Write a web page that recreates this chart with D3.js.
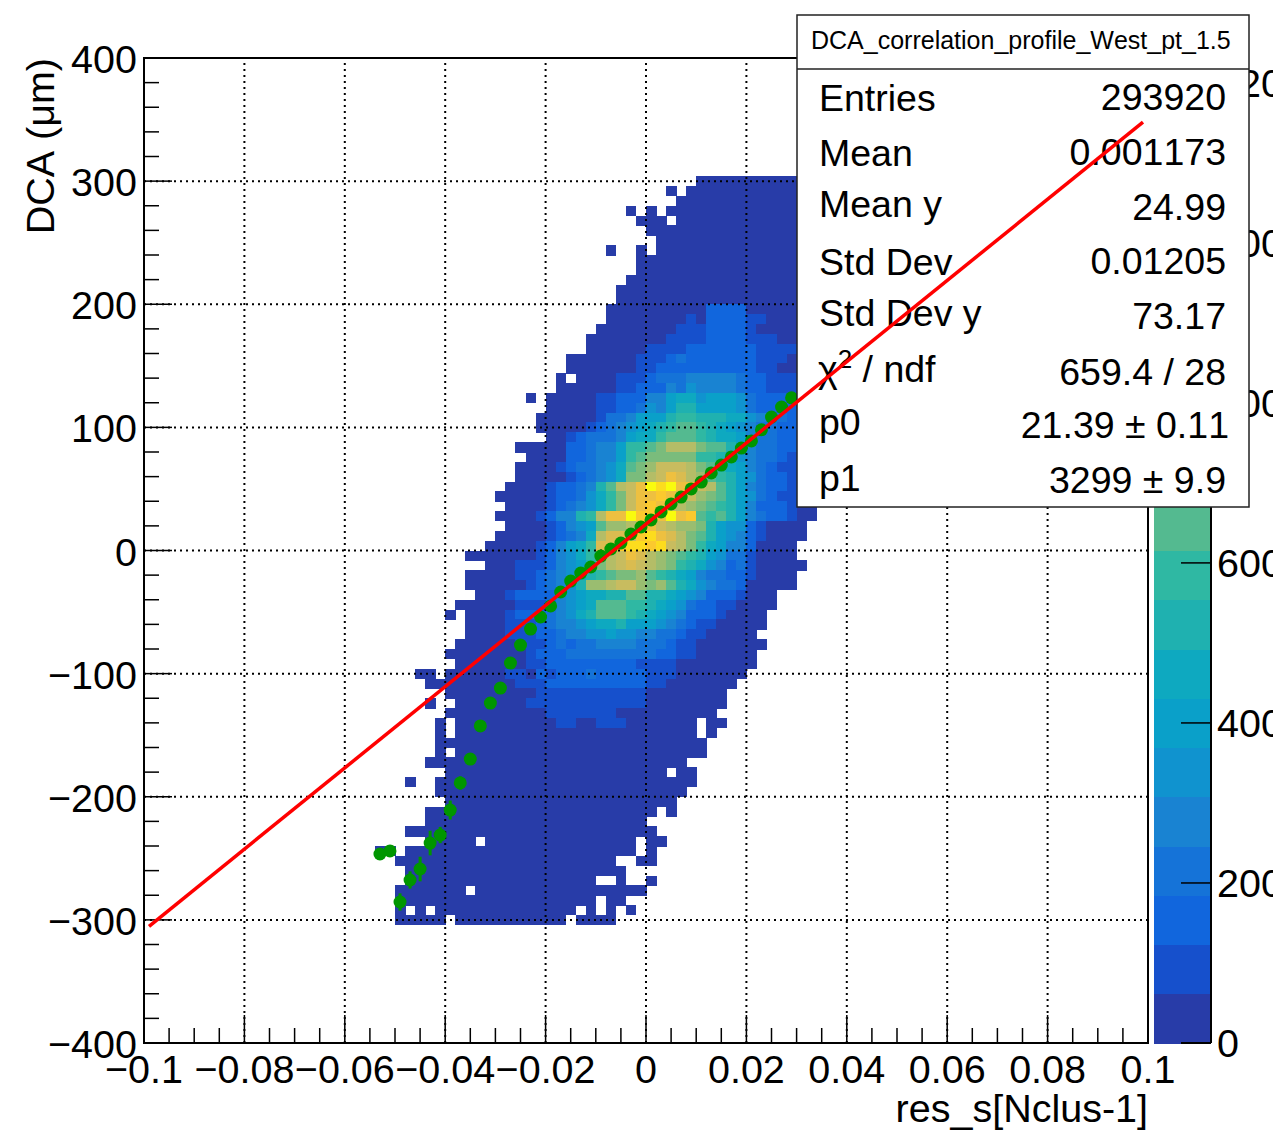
<!DOCTYPE html>
<html>
<head>
<meta charset="utf-8">
<script src="https://cdn.jsdelivr.net/npm/d3@7"></script>
<style>
html, body { margin: 0; padding: 0; background: #fff; }
svg { display: block; }
text { font-family: "Liberation Sans", Arial, sans-serif; fill: #000; font-kerning: none; }
</style>
</head>
<body>
<svg id="chart" width="1273" height="1130"></svg>
<script>
const xDomain = [-0.1, 0.1];
const yDomain = [-400, 400];
const zMax = 1231;
const xBinWidth = 0.002;
const yBinWidth = 8;
const yTopEdge = 304;

const xMajorTicks = [-0.1, -0.08, -0.06, -0.04, -0.02, 0, 0.02, 0.04, 0.06, 0.08, 0.1];
const xMinorTicks = d3.range(-20, 21).map(d => d * 0.005).filter(d => Math.abs(d * 50 - Math.round(d * 50)) > 1e-6);
const yMajorTicks = [-400, -300, -200, -100, 0, 100, 200, 300, 400];
const yMinorTicks = d3.range(-20, 21).map(d => d * 20).filter(d => d % 100 !== 0);
const zTicks = [0, 200, 400, 600, 800, 1000, 1200];

// 20 colour bands of the palette, lowest first.
const palette = ['#283ca8', '#1650cc', '#1166dd', '#1573d8', '#1983d2', '#1093cf', '#0aa0c9', '#0ea9c0', '#1fb1b0', '#2fb8a3',
    '#54ba90', '#7abc7c', '#9abd70', '#b4bd67', '#c8bc5f', '#dabc50', '#eec040', '#fbc92e', '#fcdc1e', '#f9fb0e'];

// One row per y bin, from the top (304 um) down: first x bin, then the colour
// band of each x bin in base 36. A dot is an empty bin.
const heatRows = [
    [55, '0000000000'],
    [52, '0.00000000000'],
    [53, '000000000000'],
    [48, '0.0.0000000000000'],
    [49, '000.000000000000'],
    [50, '000000000000000'],
    [51, '00000000000000'],
    [46, '0..0.00000000000000'],
    [49, '0000000000000000'],
    [49, '0000000000000000'],
    [48, '00000000000000000'],
    [47, '000000000000000000'],
    [47, '000000000000000000'],
    [46, '0000000000222200000'],
    [46, '00000000102222' + '11000'],
    [45, '00000000111' + '2222' + '1' + '0000'],
    [44, '00000000' + '1111' + '2' + '222' + '111' + '00'],
    [44, '000000' + '1111' + '2222222' + '1111'],
    [42, '0000000' + '111' + '2' + '3' + '2222222' + '111' + '0'],
    [42, '0000000' + '112' + '222222222' + '11' + '00'],
    [41, '0.' + '0000' + '111' + '2' + '33' + '3' + '44444' + '3' + '22' + '111'],
    [41, '000000' + '11' + '222' + '4' + '3' + '5' + '4444' + '3' + '22' + '111'],
    [38, '0.' + '00000' + '11' + '22' + '2' + '44' + '6' + '77' + '5' + '666' + '5' + '3' + '22' + '22'],
    [40, '00000' + '11' + '22' + '3' + '54' + '6' + '88' + '6' + '666' + '5' + '3' + '2' + '21' + '2'],
    [39, '000000' + '1' + '33' + '4' + '6' + '66' + '8' + '99' + '8' + '88' + '77' + '5' + '4' + '33' + '2'],
    [39, '00000' + '123456789aa9876' + '54' + '3322'],
    [40, '00' + '1' + '233' + '3467' + '79aaa9' + '87' + '76433' + '22'],
    [37, '00000' + '2' + '23' + '44' + '6' + '99' + 'ab' + 'ddd' + 'baa' + '86' + '4' + '33' + '22'],
    [38, '0000' + '22' + '3' + '44' + '6' + '9' + 'abbbbb' + '99' + '865' + '4332' + '1'],
    [37, '0000' + '12' + '33' + '457' + 'abc' + 'eee' + 'dba' + '876' + '432' + '11'],
    [37, '00000' + '123' + '457' + 'bb' + 'degfdc' + 'a986' + '53' + '22' + '1'],
    [36, '0000' + '12' + '23' + '48ad' + 'egjijgg' + 'eda86' + '43' + '22' + '1'],
    [35, '00000' + '1' + '22' + '3579b' + 'eggh' + 'gfecba' + '8653' + '21' + '1'],
    [36, '0000' + '12345' + '79b' + 'eghgedcba98' + '642' + '221' + '00'],
    [35, '0000' + '12' + '44' + '89d' + 'ggjhh' + 'gjgha' + '9a86' + '4322' + '100'],
    [36, '0000' + '12456' + 'accd' + 'fgedccb' + '8655' + '21' + '0000'],
    [35, '00000' + '12347' + 'dffe' + 'higfdba' + '8654' + '21' + '0000'],
    [34, '00000' + '12467' + '9ffhiihi' + 'edb97' + '6442' + '0' + '000'],
    [32, '0000000' + '12457' + '9cdegfdcba9' + '8653' + '31' + '0' + '000'],
    [34, '000' + '111' + '24568' + 'bdefedcb' + '98754' + '23' + '1' + '00000'],
    [32, '00000' + '11' + '23457' + '89abbca' + '9876' + '4332' + '21' + '0000'],
    [32, '000000' + '12345' + '8ccdeecbca' + '87543' + '32' + '00000'],
    [33, '000' + '1' + '2222' + '45677' + '88aa88' + '7654' + '222' + '1' + '000'],
    [31, '000000' + '111' + '2456' + '7aaa99' + '8765' + '3' + '22' + '11' + '0000'],
    [30, '0.' + '0000' + '1' + '222' + '3457' + '8aaa98' + '7654' + '222' + '1' + '0000'],
    [32, '0000' + '111' + '23' + '4456' + '77866' + '6543' + '2' + '11' + '00000'],
    [32, '0000' + '111' + '223' + '4455' + '65544' + '33' + '2' + '11' + '00000'],
    [31, '000000' + '111' + '232' + '33' + '4444' + '333' + '2' + '11' + '0000000'],
    [30, '00000000' + '1' + '222' + '333333333' + '22' + '11' + '000000'],
    [31, '0000000' + '11' + '222222222' + '1111' + '00000000'],
    [27, '00.' + '000000' + '11' + '0' + '21' + '222' + '3' + '22222' + '111' + '0000000'],
    [28, '000000000' + '111' + '2222222222' + '11' + '0000000'],
    [30, '000000000' + '11111111111' + '00000000'],
    [28, '0..' + '0000000' + '111111111111' + '00000000'],
    [30, '0000000000' + '1111111' + '0000000000'],
    [29, '0.' + '0000000000' + '11' + '00' + '111' + '0000000' + '.' + '00'],
    [29, '0.' + '000000000000000000000000' + '.' + '0'],
    [29, '000000000000000000000000000'],
    [29, '0.' + '0000000000000000000000000'],
    [28, '00000000000000000000000000'],
    [30, '0000000000000000000000' + '.' + '00'],
    [26, '0..' + '00000000000000000000000000'],
    [29, '0000000000000000000000000'],
    [30, '00000000000000000000000'],
    [28, '00000000000000000000000' + '.' + '0'],
    [28, '0000000000000000000000'],
    [26, '0000000000000000000000000'],
    [28, '00000' + '.' + '000000000000000' + '.' + '00'],
    [23, '00.' + '00000000000000000000000' + '.' + '0'],
    [25, '0000000000000000000000' + '..' + '00'],
    [26, '0000000000000000000000'],
    [26, '0000000000000000000' + '..' + '0' + '..' + '0'],
    [25, '0000000' + '.' + '00000000000000000'],
    [25, '00000000000000000000' + '.' + '00'],
    [25, '0.0.' + '00000000000000' + '.0.0.0'],
    [25, '00000' + '.' + '00000000000' + '.' + '0000']
];

// Profile points: first x bin is 23, one point per bin, mean and error in um.
const profileFirstBin = 23;
const profileMeans = [-246.5, -244, -285.5, -267.6, -258.7, -237.6, -231.1, -210.8, -188.8, -169.4, -142.5, -123.9, -111.7, -91.4,
    -76.8, -63.8, -54, -45, -33.7, -24.8, -18.3, -13.4, -4.5, 1.2, 6.1, 13.4, 19.1, 24.8, 31.3, 37.8, 43.4, 50, 55.6, 63, 69.4,
    76, 83.2, 89, 98, 108.4, 116.5, 124];
const profileErrors = [1, 1, 7, 7, 10, 10, 6.6, 7.7, 5.4, 4, 3, 3, 2, 2, 2, 2, 1, 1, 1, 1, 1, 1, 1, 1, 1, 1, 1, 1, 1, 1, 1, 1, 1, 1, 1,
    1, 1, 1, 1, 1, 1, 1];

const fitP0 = 21.39;
const fitP1 = 3299;
const fitRange = [-0.099, 0.099];

const statsTitle = 'DCA_correlation_profile_West_pt_1.5';
const statsLabels = ['Entries', 'Mean', 'Mean y', 'Std Dev', 'Std Dev y', null, 'p0', 'p1'];
const statsValues = ['293920', '0.001173', '24.99', '0.01205', '73.17', '659.4 / 28', '21.39 ± 0.11', '3299 ± 9.9'];
const statsLabelBaselines = [111, 166, 217, 275, 326, 382, 435, 491];
const statsValueBaselines = [110, 165, 220, 274, 329, 385, 438, 493];

const labelSize = 39.5;
const frame = {left: 144, right: 1148, top: 58, bottom: 1043};
const barBox = {left: 1154, right: 1211};

const svg = d3.select('#chart');
const x = d3.scaleLinear().domain(xDomain).range([frame.left, frame.right]);
const y = d3.scaleLinear().domain(yDomain).range([frame.bottom, frame.top]);
const zAxisScale = d3.scaleLinear().domain([0, zMax]).range([frame.bottom, frame.top]);
const zColor = d3.scaleQuantize().domain([0, zMax]).range(palette);
const zBand = zMax / palette.length;

/**
 * Flatten the coded rows into one record per filled bin.
 */
function decodeHeatRows() {
    const cells = [];
    heatRows.forEach(function(row, j) {
        row[1].split('').forEach(function(ch, k) {
            if (ch === '.') return;
            cells.push({
                xLow: xDomain[0] + (row[0] + k) * xBinWidth,
                yHigh: yTopEdge - j * yBinWidth,
                z: (parseInt(ch, 36) + 0.5) * zBand
            });
        });
    });
    return cells;
}

svg.append('g')
    .attr('shape-rendering', 'crispEdges')
    .selectAll('rect')
    .data(decodeHeatRows())
    .join('rect')
    .attr('x', d => x(d.xLow))
    .attr('y', d => y(d.yHigh))
    .attr('width', x(xBinWidth) - x(0) + 0.5)
    .attr('height', y(0) - y(yBinWidth) + 0.5)
    .attr('fill', d => zColor(d.z));

// Dotted grid at the major ticks.
const grid = svg.append('g')
    .attr('stroke', '#000')
    .attr('stroke-width', 2)
    .attr('stroke-dasharray', '2 4');
grid.selectAll('.xgrid')
    .data(xMajorTicks.slice(1, -1))
    .join('line')
    .attr('class', 'xgrid')
    .attr('x1', d => x(d)).attr('x2', d => x(d))
    .attr('y1', frame.bottom).attr('y2', frame.top);
grid.selectAll('.ygrid')
    .data(yMajorTicks.slice(1, -1))
    .join('line')
    .attr('class', 'ygrid')
    .attr('x1', frame.left).attr('x2', frame.right)
    .attr('y1', d => y(d)).attr('y2', d => y(d));

// Profile with its error bars.
const profile = profileMeans.map(function(mean, k) {
    return {
        x: xDomain[0] + (profileFirstBin + k + 0.5) * xBinWidth,
        mean: mean,
        err: profileErrors[k]
    };
});
const profileGroup = svg.append('g');
profileGroup.selectAll('line')
    .data(profile)
    .join('line')
    .attr('x1', d => x(d.x)).attr('x2', d => x(d.x))
    .attr('y1', d => y(d.mean - d.err)).attr('y2', d => y(d.mean + d.err))
    .attr('stroke', '#009600')
    .attr('stroke-width', 3);
profileGroup.selectAll('circle')
    .data(profile)
    .join('circle')
    .attr('cx', d => x(d.x))
    .attr('cy', d => y(d.mean))
    .attr('r', 6.5)
    .attr('fill', '#009600');

// Frame and axes: ticks point into the frame, no ticks on the far sides.
svg.append('rect')
    .attr('x', frame.left).attr('y', frame.top)
    .attr('width', frame.right - frame.left).attr('height', frame.bottom - frame.top)
    .attr('fill', 'none')
    .attr('stroke', '#000')
    .attr('stroke-width', 2);

function drawTicks(values, size, horizontal) {
    svg.append('g')
        .attr('stroke', '#000')
        .attr('stroke-width', 1.5)
        .selectAll('line')
        .data(values)
        .join('line')
        .attr('x1', d => horizontal ? x(d) : frame.left)
        .attr('x2', d => horizontal ? x(d) : frame.left + size)
        .attr('y1', d => horizontal ? frame.bottom : y(d))
        .attr('y2', d => horizontal ? frame.bottom - size : y(d));
}
drawTicks(xMajorTicks, 28, true);
drawTicks(xMinorTicks, 15, true);
drawTicks(yMajorTicks, 28, false);
drawTicks(yMinorTicks, 15, false);

const tickFormat = d3.format('~g');
svg.append('g')
    .selectAll('text')
    .data(xMajorTicks)
    .join('text')
    .attr('x', d => x(d))
    .attr('y', 1083)
    .attr('text-anchor', 'middle')
    .attr('font-size', labelSize)
    .text(d => tickFormat(d));
svg.append('g')
    .selectAll('text')
    .data(yMajorTicks)
    .join('text')
    .attr('x', 137)
    .attr('y', d => y(d) + 15)
    .attr('text-anchor', 'end')
    .attr('font-size', labelSize)
    .text(d => tickFormat(d));

svg.append('text')
    .attr('x', frame.right)
    .attr('y', 1122)
    .attr('text-anchor', 'end')
    .attr('font-size', labelSize)
    .text('res_s[Nclus-1]');
svg.append('text')
    .attr('transform', 'translate(54,' + frame.top + ') rotate(-90)')
    .attr('text-anchor', 'end')
    .attr('font-size', labelSize)
    .text('DCA (μm)');

// Colour bar.
svg.append('g')
    .attr('shape-rendering', 'crispEdges')
    .selectAll('rect')
    .data(palette)
    .join('rect')
    .attr('x', barBox.left)
    .attr('y', (d, k) => zAxisScale((k + 1) * zBand))
    .attr('width', barBox.right - barBox.left)
    .attr('height', zAxisScale(0) - zAxisScale(zBand) + 0.5)
    .attr('fill', d => d);
svg.append('line')
    .attr('x1', barBox.right).attr('x2', barBox.right)
    .attr('y1', frame.top).attr('y2', frame.bottom)
    .attr('stroke', '#000').attr('stroke-width', 2);
svg.append('line')
    .attr('x1', barBox.left + 27).attr('x2', barBox.right)
    .attr('y1', frame.bottom).attr('y2', frame.bottom)
    .attr('stroke', '#000').attr('stroke-width', 2);
svg.append('g')
    .attr('stroke', '#000')
    .attr('stroke-width', 1.5)
    .selectAll('line')
    .data(zTicks)
    .join('line')
    .attr('x1', barBox.right - 30).attr('x2', barBox.right)
    .attr('y1', d => zAxisScale(d)).attr('y2', d => zAxisScale(d));
svg.append('g')
    .selectAll('text')
    .data(zTicks)
    .join('text')
    .attr('x', 1217)
    .attr('y', d => zAxisScale(d) + 14)
    .attr('font-size', labelSize)
    .text(d => d);

// Statistics box sits over the plot.
const stats = svg.append('g');
stats.append('rect')
    .attr('x', 797).attr('y', 15)
    .attr('width', 452).attr('height', 492)
    .attr('fill', '#fff')
    .attr('stroke', '#222')
    .attr('stroke-width', 1.5);
stats.append('line')
    .attr('x1', 797).attr('x2', 1249)
    .attr('y1', 69).attr('y2', 69)
    .attr('stroke', '#222')
    .attr('stroke-width', 1.5);
stats.append('text')
    .attr('x', 811)
    .attr('y', 49)
    .attr('font-size', 25)
    .text(statsTitle);
stats.selectAll('.statlabel')
    .data(statsLabels)
    .join('text')
    .attr('class', 'statlabel')
    .attr('x', 819)
    .attr('y', (d, k) => statsLabelBaselines[k])
    .attr('font-size', 37.5)
    .text(d => d);
const chiLabel = stats.append('text')
    .attr('x', 818)
    .attr('y', statsLabelBaselines[5])
    .attr('font-size', 37.5);
chiLabel.append('tspan').text('χ');
chiLabel.append('tspan').attr('dy', -14).attr('font-size', 26).text('2');
chiLabel.append('tspan').attr('dy', 14).text(' / ndf');
stats.selectAll('.statvalue')
    .data(statsValues)
    .join('text')
    .attr('class', 'statvalue')
    .attr('x', (d, k) => k === 6 ? 1229 : 1226)
    .attr('y', (d, k) => statsValueBaselines[k])
    .attr('text-anchor', 'end')
    .attr('font-size', 37.5)
    .text(d => d);

// Fit line is drawn last, it crosses the statistics box.
svg.append('line')
    .attr('x1', x(fitRange[0]))
    .attr('y1', y(fitP0 + fitP1 * fitRange[0]))
    .attr('x2', x(fitRange[1]))
    .attr('y2', y(fitP0 + fitP1 * fitRange[1]))
    .attr('stroke', '#f00')
    .attr('stroke-width', 3.5);
</script>
</body>
</html>
